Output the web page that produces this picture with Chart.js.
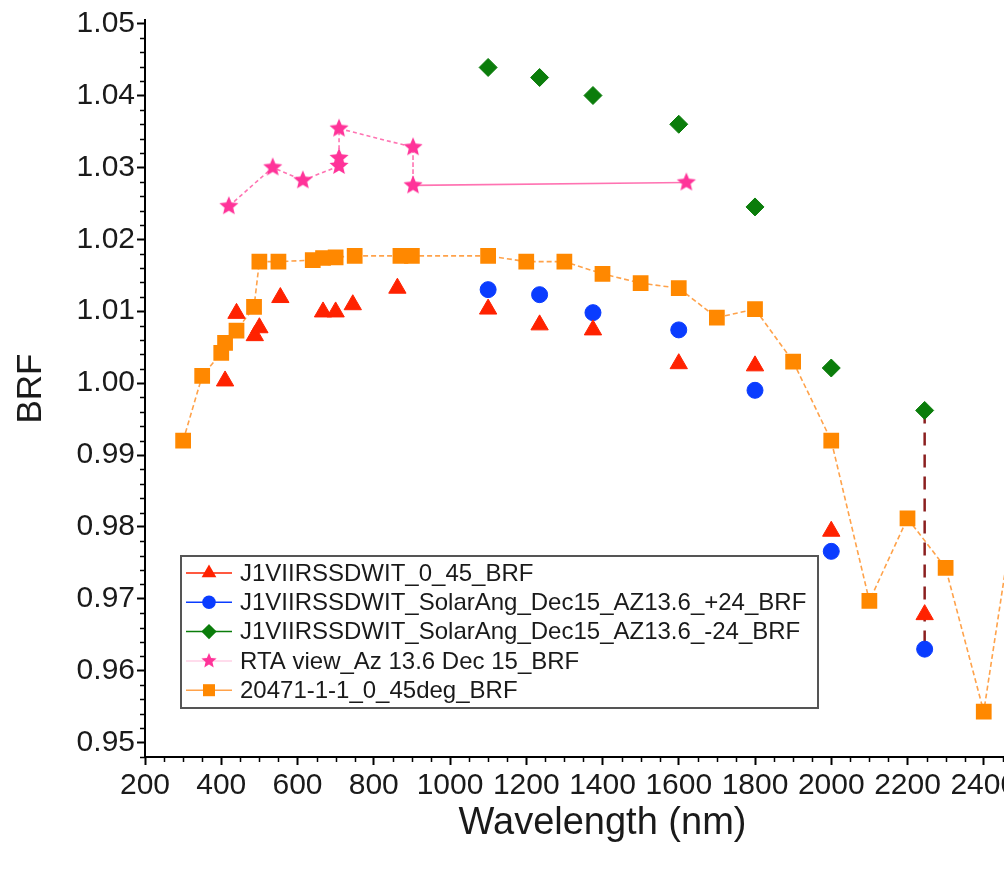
<!DOCTYPE html>
<html>
<head>
<meta charset="utf-8">
<title>BRF vs Wavelength</title>
<script src="https://cdn.jsdelivr.net/npm/chart.js@4.4.1/dist/chart.umd.min.js"></script>
<style>
	html, body { margin: 0; padding: 0; background: #fff; overflow: hidden; }
	#brf-chart { display: block; }
</style>
</head>
<body>
<canvas id="brf-chart" width="1100" height="872"></canvas>
<script>
/*************************
DATA
*************************/

//J1VIIRSSDWIT_0_45_BRF (red triangles)
const redWavelength = [410, 440, 488, 500, 555, 667, 700, 745, 862, 1100, 1235, 1375, 1600, 1800, 2000, 2245];
const redBrf = [1.0003, 1.0097, 1.0066, 1.0077, 1.0119, 1.0099, 1.0099, 1.0109, 1.0132, 1.0103, 1.0081, 1.0074, 1.0027, 1.0024, 0.9794, 0.9678];

//J1VIIRSSDWIT_SolarAng_Dec15_AZ13.6_+24_BRF (blue circles)
const blueWavelength = [1100, 1235, 1375, 1600, 1800, 2000, 2245];
const blueBrf = [1.0130, 1.0123, 1.0098, 1.0074, 0.9990, 0.9766, 0.9630];

//J1VIIRSSDWIT_SolarAng_Dec15_AZ13.6_-24_BRF (green diamonds)
const greenWavelength = [1100, 1235, 1375, 1600, 1800, 2000, 2245];
const greenBrf = [1.0439, 1.0425, 1.0400, 1.0360, 1.0245, 1.0021, 0.9962];

//RTA view_Az 13.6 Dec 15_BRF (pink stars)
const pinkWavelength = [420, 535, 614, 709, 709, 709, 903, 903, 1620];
const pinkBrf = [1.0246, 1.0300, 1.0282, 1.0302, 1.0313, 1.0354, 1.0328, 1.0275, 1.0279];

//20471-1-1_0_45deg_BRF (orange squares)
const orangeWavelength = [300, 350, 400, 410, 440, 486, 500, 550, 640, 667, 700, 750, 870, 900, 1100, 1200, 1300, 1400, 1500, 1600, 1700, 1800, 1900, 2000, 2100, 2200, 2300, 2400, 2500];
const orangeBrf = [0.9920, 1.0010, 1.0042, 1.0056, 1.0073, 1.0106, 1.0169, 1.0169, 1.0171, 1.0174, 1.0175, 1.0177, 1.0177, 1.0177, 1.0177, 1.0169, 1.0169, 1.0152, 1.0139, 1.0132, 1.0091, 1.0103, 1.0030, 0.9920, 0.9697, 0.9812, 0.9743, 0.9543, 0.9890];

//the dark red dashed drop line at 2250 nm
const dropWavelength = [2245, 2245];
const dropBrf = [0.9962, 0.9630];

//axis ranges
const xMin = 200, xMax = 2600, xStep = 200;
const yMin = 0.948, yMax = 1.0505, yStep = 0.01;

/*************************
COLORS
*************************/

const redColor = '#ff2200';
const blueColor = '#0a3cff';
const greenColor = '#0b7d0b';
const pinkColor = '#ff3399';
const pinkLine = 'rgba(255, 90, 165, 0.85)';
const orangeColor = '#ff8800';
const orangeLine = '#ffa24a';
const dropColor = '#8b1f1f';
const fontFamily = '"Liberation Sans", Arial, sans-serif';

/*************************
HELPERS
*************************/

//pairs two arrays into {x, y} points
function ToPoints(xs, ys){
	return xs.map((x, i) => ({x: x, y: ys[i]}));
}

//a filled five pointed star drawn on a small canvas, used as pointStyle
function MakeStar(color, outer){
	const size = outer * 2 + 2;
	const c = document.createElement('canvas');
	c.width = size;
	c.height = size;
	const g = c.getContext('2d');
	const inner = outer * 0.45;
	g.beginPath();
	for(let i = 0; i < 10; i++){
		const r = i % 2 === 0 ? outer : inner;
		const a = -Math.PI / 2 + i * Math.PI / 5;
		const px = size / 2 + r * Math.cos(a);
		const py = size / 2 + r * Math.sin(a);
		if(i === 0) g.moveTo(px, py); else g.lineTo(px, py);
	}
	g.closePath();
	g.fillStyle = color;
	g.fill();
	return c;
}

const starImage = MakeStar(pinkColor, 10);
const starSmall = MakeStar(pinkColor, 8);

/*************************
PLUGINS
*************************/

//small minor ticks along both axes
const minorTicks = {
	id: 'minorTicks',
	afterDraw(chart){
		const {ctx, chartArea, scales} = chart;
		ctx.save();
		ctx.strokeStyle = '#000';
		ctx.lineWidth = 1.5;
		ctx.beginPath();
		for(let v = xMin + 50; v < xMax; v += 50){
			if(v % xStep === 0) continue;
			const px = Math.round(scales.x.getPixelForValue(v)) + 0.5;
			ctx.moveTo(px, chartArea.bottom);
			ctx.lineTo(px, chartArea.bottom + 5);
		}
		for(let k = 948; k <= 1050; k += 2){
			if(k % 10 === 0) continue;
			const py = Math.round(scales.y.getPixelForValue(k / 1000)) + 0.5;
			ctx.moveTo(chartArea.left, py);
			ctx.lineTo(chartArea.left - 5, py);
		}
		ctx.stroke();
		ctx.restore();
	}
};

//boxed legend in the lower left of the plot
const legendBox = {
	id: 'legendBox',
	afterDatasetsDraw(chart){
		const {ctx, chartArea} = chart;
		const left = chartArea.left + 36;
		const top = chartArea.bottom - 201;
		const width = 637;
		const height = 152;
		ctx.save();
		ctx.fillStyle = '#fff';
		ctx.fillRect(left, top, width, height);
		ctx.strokeStyle = '#555';
		ctx.lineWidth = 2;
		ctx.strokeRect(left, top, width, height);
		ctx.font = '24px ' + fontFamily;
		ctx.textBaseline = 'middle';
		let row = 0;
		chart.data.datasets.forEach(ds => {
			if(!ds.label) return;
			const y = top + 17 + row * 29.3;
			ctx.strokeStyle = ds.legendLine;
			ctx.lineWidth = 1.5;
			ctx.beginPath();
			ctx.moveTo(left + 5, y);
			ctx.lineTo(left + 51, y);
			ctx.stroke();
			ctx.fillStyle = ds.pointBackgroundColor;
			ctx.strokeStyle = ds.pointBackgroundColor;
			Chart.helpers.drawPoint(ctx, {
				pointStyle: ds.label.startsWith('RTA') ? starSmall : ds.pointStyle,
				radius: ds.pointRadius * 0.85,
				rotation: 0,
				borderWidth: 0,
			}, left + 28, y);
			ctx.fillStyle = '#1a1a1a';
			ctx.fillText(ds.label, left + 59, y + 1);
			row++;
		});
		ctx.restore();
	}
};

/*************************
CHART
*************************/

const brfCanvas = document.querySelector('#brf-chart').getContext('2d');

const brfData = {
	datasets: [
		{
			label: 'J1VIIRSSDWIT_0_45_BRF',
			data: ToPoints(redWavelength, redBrf),
			showLine: false,
			pointStyle: 'triangle',
			pointRadius: 10,
			pointBackgroundColor: redColor,
			pointBorderColor: redColor,
			legendLine: redColor,
			order: 2,
		},
		{
			label: 'J1VIIRSSDWIT_SolarAng_Dec15_AZ13.6_+24_BRF',
			data: ToPoints(blueWavelength, blueBrf),
			showLine: false,
			pointStyle: 'circle',
			pointRadius: 8,
			pointBackgroundColor: blueColor,
			pointBorderColor: blueColor,
			legendLine: blueColor,
			order: 3,
		},
		{
			label: 'J1VIIRSSDWIT_SolarAng_Dec15_AZ13.6_-24_BRF',
			data: ToPoints(greenWavelength, greenBrf),
			showLine: false,
			pointStyle: 'rectRot',
			pointRadius: 9,
			pointBackgroundColor: greenColor,
			pointBorderColor: greenColor,
			legendLine: greenColor,
			order: 1,
		},
		{
			label: 'RTA view_Az 13.6 Dec 15_BRF',
			data: ToPoints(pinkWavelength, pinkBrf),
			showLine: true,
			borderColor: pinkLine,
			borderWidth: 1.6,
			segment: {
				borderDash: ctx => ctx.p1.parsed.x > 1000 ? [] : [4, 3],
			},
			pointStyle: starImage,
			pointRadius: 9,
			pointBackgroundColor: pinkColor,
			pointBorderColor: pinkColor,
			legendLine: '#ffd0e6',
			order: 4,
		},
		{
			label: '20471-1-1_0_45deg_BRF',
			data: ToPoints(orangeWavelength, orangeBrf),
			showLine: true,
			borderColor: orangeLine,
			borderWidth: 1.6,
			borderDash: [5, 3],
			pointStyle: 'rect',
			pointRadius: 10,
			pointBackgroundColor: orangeColor,
			pointBorderColor: orangeColor,
			legendLine: orangeLine,
			order: 5,
		},
		{
			data: ToPoints(dropWavelength, dropBrf),
			showLine: true,
			borderColor: dropColor,
			borderWidth: 2.5,
			borderDash: [13, 9],
			pointRadius: 0,
			order: 10,
		},
	],
};

const brfOptions = {
	responsive: false,
	animation: false,
	layout: {padding: {top: 18, right: 40, left: 0, bottom: 0}},
	plugins: {
		legend: {display: false},
		tooltip: {enabled: false},
	},
	scales: {
		x: {
			type: 'linear',
			min: xMin,
			max: xMax,
			border: {display: true, color: '#000', width: 2},
			grid: {display: true, drawOnChartArea: false, drawTicks: true, tickLength: 8, tickWidth: 2, tickColor: '#000'},
			ticks: {
				stepSize: xStep,
				includeBounds: false,
				autoSkip: false,
				maxRotation: 0,
				padding: 3,
				color: '#1a1a1a',
				font: {family: fontFamily, size: 30},
				callback: v => String(v),
			},
			title: {
				display: true,
				text: 'Wavelength (nm)',
				color: '#1a1a1a',
				font: {family: fontFamily, size: 38},
				padding: {top: 0, bottom: 26},
			},
			afterFit: scale => { scale.height = 115; },
		},
		y: {
			type: 'linear',
			min: yMin,
			max: yMax,
			border: {display: true, color: '#000', width: 2},
			grid: {display: true, drawOnChartArea: false, drawTicks: true, tickLength: 8, tickWidth: 2, tickColor: '#000'},
			ticks: {
				stepSize: yStep,
				includeBounds: false,
				padding: 2,
				color: '#1a1a1a',
				font: {family: fontFamily, size: 30},
				callback: v => Number(v).toFixed(2),
			},
			title: {
				display: true,
				text: 'BRF',
				color: '#1a1a1a',
				font: {family: fontFamily, size: 35},
				padding: {top: 10, bottom: 0},
			},
			afterFit: scale => { scale.width = 145; },
		},
	},
};

const brfChart = new Chart(brfCanvas, {
	type: 'scatter',
	data: brfData,
	options: brfOptions,
	plugins: [minorTicks, legendBox],
});
</script>
</body>
</html>
